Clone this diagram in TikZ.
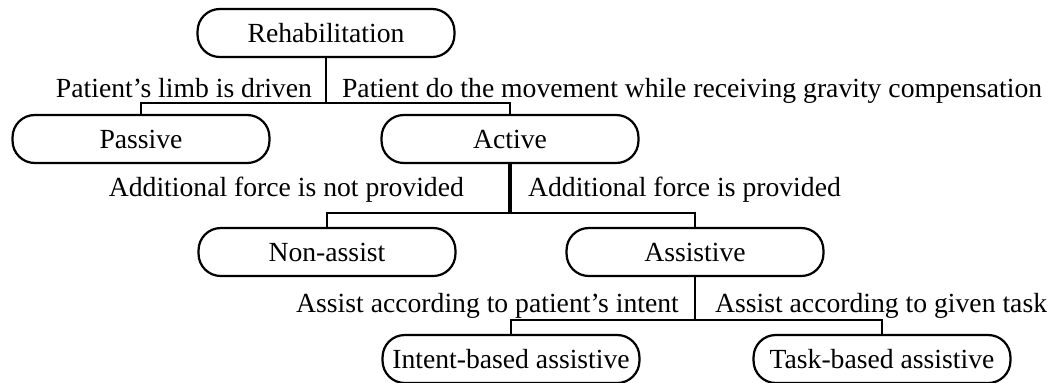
\documentclass[tikz,border=0pt]{standalone}
\usepackage{fontspec}
\setmainfont{Liberation Serif}
\usetikzlibrary{positioning,calc}

\begin{document}
\begin{tikzpicture}[x=0.45pt,y=-0.45pt,line width=1pt,font=\fontsize{12.45}{15}\selectfont,
    box/.style={draw,rounded corners=10pt,minimum width=115.6pt,minimum height=21.6pt,inner sep=1pt},
    lbl/.style={inner sep=0pt}]
    \useasboundingbox (0,0) rectangle (1062,382);

    \node[box] (rehab)     at (326,33)  {Rehabilitation};
    \node[box] (passive)   at (141,139) {Passive};
    \node[box] (active)    at (510,139) {Active};
    \node[box] (nonassist) at (327,252) {Non-assist};
    \node[box] (assistive) at (695,252) {Assistive};
    \node[box] (intent)    at (511,359) {Intent-based assistive};
    \node[box] (task)      at (882,359) {Task-based assistive};

    \coordinate (j1) at (326,103);
    \coordinate (j2) at (510,213);
    \coordinate (j3) at (695,320);

    \draw (rehab.south) -- (j1) -| (passive.north);
    \draw (j1) -| (active.north);
    \draw[line width=1.4pt] (active.south) -- (j2);
    \draw (j2) -| (nonassist.north);
    \draw (j2) -| (assistive.north);
    \draw (assistive.south) -- (j3) -| (intent.north);
    \draw (j3) -| (task.north);

    \node[lbl,anchor=base east] (l1a) at (313,97)  {Patient's limb is driven};
    \node[lbl,anchor=base west] (l1b) at (341,97)  {Patient do the movement while receiving gravity compensation};
    \node[lbl,anchor=base east] (l2a) at (465,196) {Additional force is not provided};
    \node[lbl,anchor=base west] (l2b) at (527,196) {Additional force is provided};
    \node[lbl,anchor=base east] (l3a) at (680,312) {Assist according to patient's intent};
    \node[lbl,anchor=base west] (l3b) at (714,312) {Assist according to given task};
  \end{tikzpicture}
\end{document}
